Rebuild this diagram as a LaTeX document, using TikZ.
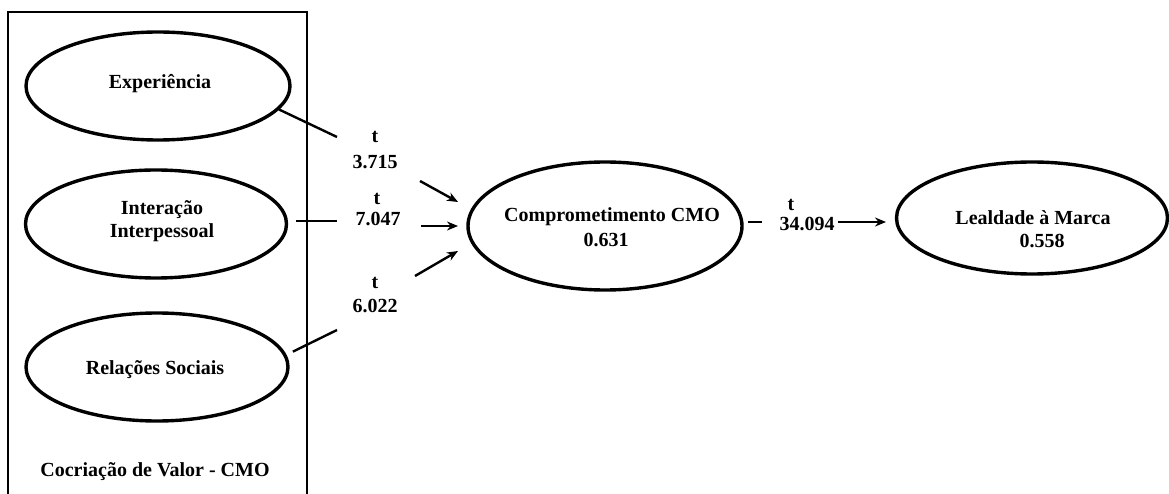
\documentclass[tikz,border=0pt]{standalone}
\usepackage{fontspec}
\setmainfont{Liberation Serif}
\usetikzlibrary{shapes.geometric,arrows.meta}
\begin{document}
\begin{tikzpicture}[x=1pt,y=-1pt,
  lv/.style={draw,ellipse,line width=3.4pt,inner sep=0pt},
  lbl/.style={font=\fontsize{20}{23}\selectfont\bfseries,inner sep=0pt,align=center},
  seg/.style={line width=2.4pt},
  arr/.style={line width=2.4pt,-{Stealth[length=11pt,width=9pt]}}]
\useasboundingbox (0,0) rectangle (1169,494);
% group frame
\draw[line width=1.1pt] (8,494) -- (8,12) -- (307,12) -- (307,494);
\node[lbl] (grp) at (155,472) {Cocriação de Valor - CMO};
% latent variables
\node[lv,minimum width=264pt,minimum height=108pt] (exp) at (158,86) {};
\node[lbl] (expt) at (160,84) {Experiência};
\node[lv,minimum width=261pt,minimum height=108pt] (int) at (156,224) {};
\node[lbl] (intt) at (162,221) {Interação\\Interpessoal};
\node[lv,minimum width=262pt,minimum height=108pt] (rel) at (157,367) {};
\node[lbl] (relt) at (155,370) {Relações Sociais};
\node[lv,minimum width=274pt,minimum height=128pt] (comp) at (605,226) {};
\node[lbl] (compt) at (612,217) {Comprometimento CMO};
\node[lbl] (compv) at (606,240) {0.631};
\node[lv,minimum width=271pt,minimum height=112pt] (leal) at (1032,218) {};
\node[lbl] (lealt) at (1033,218) {Lealdade à Marca};
\node[lbl] (lealv) at (1042,241) {0.558};
% path labels
\node[lbl] (t1) at (375,137) {t};
\node[lbl] (v1) at (375,162) {3.715};
\node[lbl] (t2) at (377,199) {t};
\node[lbl] (v2) at (378,219) {7.047};
\node[lbl] (t3) at (375,283) {t};
\node[lbl] (v3) at (375,306) {6.022};
\node[lbl] (t4) at (791,205) {t};
\node[lbl] (v4) at (807,224) {34.094};
% coordinates
\coordinate (e1) at (337,137);
\coordinate (e2) at (337,221);
\coordinate (e3) at (337,330);
\coordinate (a1s) at (420,181);
\coordinate (a1e) at (458,202);
\coordinate (a2s) at (421,226);
\coordinate (a2e) at (458,226);
\coordinate (a3s) at (415,276);
\coordinate (a3e) at (458,251);
\coordinate (d1) at (748,222);
\coordinate (d2) at (762,222);
\coordinate (a4s) at (838,222);
\coordinate (a4e) at (886,222);
% connectors
\draw[seg] (exp.-11) -- (e1);
\draw[seg] (int.0) ++(8,-3) -- (e2);
\draw[seg] (rel.5) ++(6,-4) -- (e3);
\draw[arr] (a1s) -- (a1e);
\draw[arr] (a2s) -- (a2e);
\draw[arr] (a3s) -- (a3e);
\draw[seg] (d1) -- (d2);
\draw[arr] (a4s) -- (a4e);
\end{tikzpicture}
\end{document}
